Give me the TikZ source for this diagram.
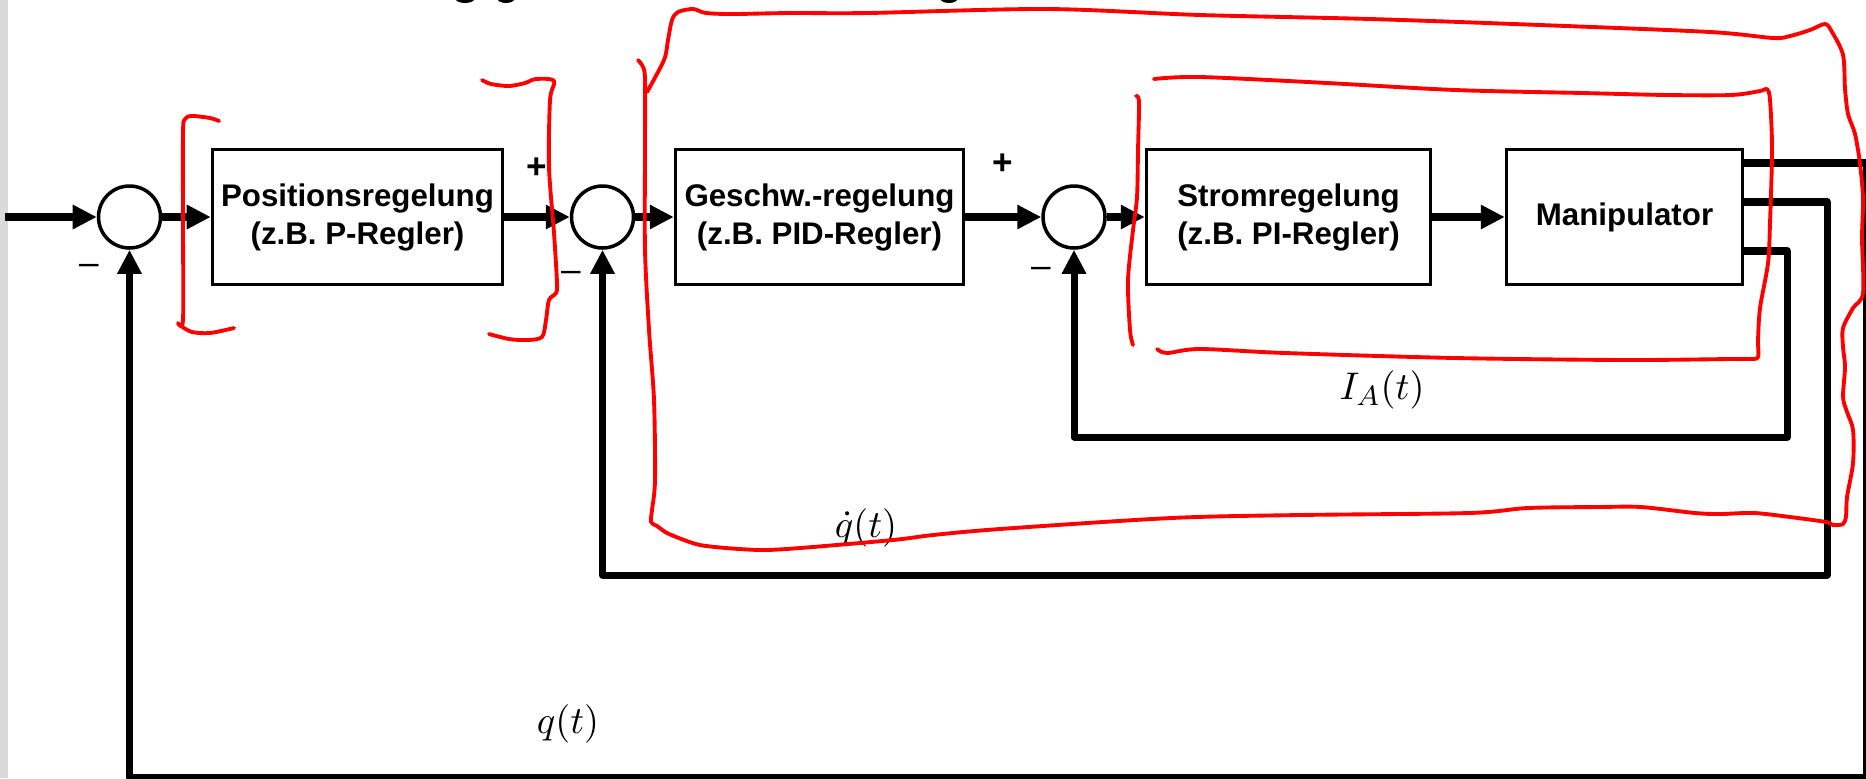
\documentclass[tikz,border=0pt]{standalone}
\usepackage{fontspec}
\setmainfont{Liberation Sans}
\usetikzlibrary{arrows.meta}

\begin{document}
\begin{tikzpicture}[
    scale=1.0,
    >={Triangle[length=2.4mm,width=2.3mm]},
    block/.style={draw, line width=1pt, minimum height=1.35cm, inner sep=0pt, align=center,
                  font=\fontsize{8.9}{10.8}\selectfont\bfseries},
    sumnode/.style={circle, draw, line width=1pt, minimum size=0.62cm, inner sep=0pt},
    signal/.style={line width=2pt, line join=round},
    redpen/.style={draw=red, line width=1.1pt, line cap=round, line join=round},
    plussign/.style={font=\fontsize{10}{12}\selectfont\bfseries},
    minussign/.style={font=\fontsize{10}{12}\selectfont},
    varlabel/.style={font=\fontsize{11}{13}\selectfont},
]

% Frame
\useasboundingbox (0,0) rectangle (18.66,7.78);
\clip (0,0) rectangle (18.66,7.78);
\fill[gray!30] (0,0) rectangle (0.08,7.78);

% Cut-off title (only the descenders remain)
\fill (4.65,7.80) ellipse (0.10 and 0.05);
\fill (5.06,7.80) ellipse (0.09 and 0.05);
\fill (9.49,7.80) ellipse (0.09 and 0.05);

% Blocks
\node[block, minimum width=2.90cm] (posctrl) at (3.575,5.61) {Positionsregelung\\(z.B. P-Regler)};
\node[block, minimum width=2.88cm] (velctrl) at (8.195,5.61) {Geschw.-regelung\\(z.B. PID-Regler)};
\node[block, minimum width=2.84cm] (curctrl) at (12.885,5.61) {Stromregelung\\(z.B. PI-Regler)};
\node[block, minimum width=2.36cm] (mani) at (16.245,5.61) {Manipulator};

% Summing points
\node[sumnode] (sum1) at (1.295,5.61) {};
\node[sumnode] (sum2) at (6.025,5.61) {};
\node[sumnode] (sum3) at (10.74,5.61) {};

% Signs
\node[plussign] (plus2) at (5.37,6.10) {+};
\node[plussign] (plus3) at (10.03,6.14) {+};
\node[minussign] (minus1) at (0.89,5.09) {\textendash};
\node[minussign] (minus2) at (5.71,5.02) {\textendash};
\node[minussign] (minus3) at (10.41,5.06) {\textendash};

% Forward path
\coordinate (input) at (0.05,5.61);
\draw[signal, ->] (input) -- (sum1);
\draw[signal, ->] (sum1) -- (posctrl);
\draw[signal, ->] (posctrl) -- (sum2);
\draw[signal, ->] (sum2) -- (velctrl);
\draw[signal, ->] (velctrl) -- (sum3);
\draw[signal, ->] (sum3) -- (curctrl);
\draw[signal, ->] (curctrl) -- (mani);

% Feedback loops
\coordinate (qcorner) at (18.66,0.01);
\coordinate (dqcorner) at (18.27,2.03);
\coordinate (iacorner) at (17.87,3.41);
\draw[signal, ->] ([yshift=5.4mm]mani.east) -| (qcorner) -| (sum1.south);
\draw[signal, ->] ([yshift=1.5mm]mani.east) -| (dqcorner) -| (sum2.south);
\draw[signal, ->] ([yshift=-3.4mm]mani.east) -| (iacorner) -| (sum3.south);

\node[varlabel] (ia) at (13.82,3.88) {$I_A(t)$};
\node[varlabel] (dq) at (8.66,2.50) {$\dot{q}(t)$};
\node[varlabel] (q) at (5.68,0.54) {$q(t)$};

% Red pen marks
\draw[redpen] plot[smooth, tension=0.5] coordinates {(2.19,6.57) (2.10,6.60) (1.92,6.62) (1.85,6.59)
    (1.83,6.45) (1.83,5.50) (1.83,4.58) (1.78,4.55) (1.81,4.52) (1.92,4.46) (2.10,4.45) (2.34,4.50)};
\draw[redpen] plot[smooth, tension=0.5] coordinates {(4.82,6.98) (4.91,6.94) (5.09,6.92) (5.25,6.95)
    (5.36,6.99) (5.54,6.97) (5.50,6.78) (5.49,6.11) (5.54,5.45) (5.57,4.95) (5.56,4.85) (5.49,4.78)
    (5.46,4.58) (5.42,4.41) (5.27,4.38) (5.09,4.39) (4.89,4.44)};
\draw[redpen] plot[smooth, tension=0.5] coordinates {(6.38,7.18) (6.43,7.11) (6.45,6.98) (6.45,6.28)
    (6.45,5.28) (6.49,4.48) (6.54,3.78) (6.55,2.98) (6.52,2.68) (6.51,2.56) (6.57,2.52) (6.67,2.45)
    (6.84,2.38) (7.00,2.33) (7.26,2.30) (7.62,2.28) (8.00,2.30) (8.93,2.38) (9.33,2.43) (10.00,2.49)
    (11.71,2.60) (13.00,2.63) (14.69,2.65) (15.28,2.70) (16.00,2.71) (16.41,2.71) (16.95,2.65)
    (17.20,2.64) (17.54,2.65) (17.90,2.61) (18.26,2.56) (18.33,2.53) (18.43,2.54) (18.46,2.62)
    (18.47,2.81) (18.53,3.15) (18.53,3.48) (18.47,3.66) (18.43,3.81) (18.45,4.11) (18.43,4.31)
    (18.43,4.50) (18.53,4.70) (18.63,4.85) (18.62,5.40) (18.63,5.79) (18.60,6.14) (18.55,6.44)
    (18.48,6.64) (18.45,6.89) (18.43,7.23) (18.32,7.46) (18.25,7.54) (18.10,7.48) (17.90,7.42)
    (17.73,7.40) (17.10,7.46) (15.40,7.53) (13.70,7.59) (12.00,7.63) (10.46,7.69) (8.68,7.65)
    (7.91,7.65) (7.33,7.64) (7.06,7.65) (6.93,7.69) (6.78,7.66) (6.72,7.58) (6.68,7.38) (6.64,7.18)
    (6.47,6.86)};
\draw[redpen] plot[smooth, tension=0.5] coordinates {(11.36,6.82) (11.39,6.76) (11.38,6.28)
    (11.37,5.81) (11.33,5.48) (11.28,4.98) (11.30,4.48) (11.33,4.33)};
\draw[redpen] plot[smooth, tension=0.5] coordinates {(11.54,6.99) (12.00,7.01) (13.27,6.95)
    (14.55,6.88) (15.82,6.85) (16.67,6.83) (17.31,6.83) (17.60,6.87) (17.67,6.89) (17.70,6.78)
    (17.72,6.29) (17.70,5.55) (17.68,5.15) (17.60,4.70) (17.58,4.38) (17.58,4.21) (17.50,4.19)
    (17.31,4.19) (16.25,4.18) (14.55,4.20) (12.85,4.25) (12.00,4.29) (11.67,4.25) (11.57,4.29)};

\end{tikzpicture}
\end{document}
